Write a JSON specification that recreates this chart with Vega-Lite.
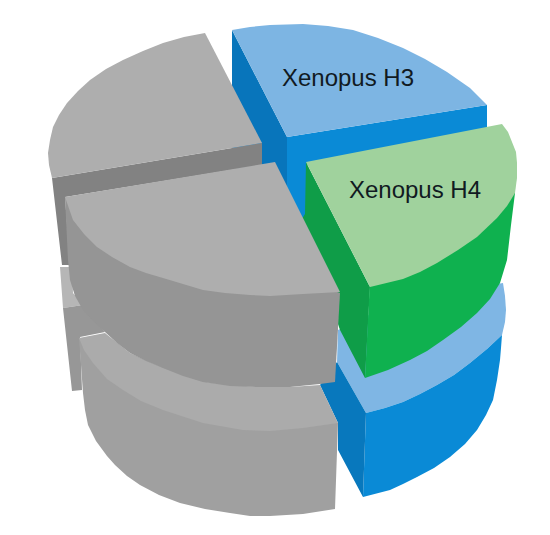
{
  "$schema": "https://vega.github.io/schema/vega-lite/v6.json",
  "width": 550,
  "height": 535,
  "padding": 0,
  "autosize": {"type": "fit", "contains": "padding"},
  "background": "white",
  "view": {"stroke": null},
  "layer": [
    {
      "data": {"values": [
        {"shape":"s01","i":1,"x":60,"y":267},{"shape":"s01","i":2,"x":72,"y":267},{"shape":"s01","i":3,"x":73,"y":293},{"shape":"s01","i":4,"x":83,"y":305},{"shape":"s01","i":5,"x":63,"y":308},
        {"shape":"s02","i":1,"x":63,"y":308},{"shape":"s02","i":2,"x":83,"y":305},{"shape":"s02","i":3,"x":105,"y":332},{"shape":"s02","i":4,"x":80,"y":337},{"shape":"s02","i":5,"x":82,"y":390},{"shape":"s02","i":6,"x":72,"y":391},
        {"shape":"s03","i":1,"x":338,"y":330},{"shape":"s03","i":2,"x":337,"y":362},{"shape":"s03","i":3,"x":366,"y":413},{"shape":"s03","i":4,"x":385,"y":408},{"shape":"s03","i":5,"x":403,"y":402},{"shape":"s03","i":6,"x":420,"y":394},{"shape":"s03","i":7,"x":437,"y":385},{"shape":"s03","i":8,"x":454,"y":375},{"shape":"s03","i":9,"x":470,"y":363},{"shape":"s03","i":10,"x":487,"y":349},{"shape":"s03","i":11,"x":502,"y":335},{"shape":"s03","i":12,"x":505,"y":322},{"shape":"s03","i":13,"x":506,"y":310},{"shape":"s03","i":14,"x":505,"y":296},{"shape":"s03","i":15,"x":503,"y":283},{"shape":"s03","i":16,"x":400,"y":300},
        {"shape":"s04","i":1,"x":366,"y":413},{"shape":"s04","i":2,"x":385,"y":408},{"shape":"s04","i":3,"x":403,"y":402},{"shape":"s04","i":4,"x":420,"y":394},{"shape":"s04","i":5,"x":437,"y":385},{"shape":"s04","i":6,"x":454,"y":375},{"shape":"s04","i":7,"x":470,"y":363},{"shape":"s04","i":8,"x":487,"y":349},{"shape":"s04","i":9,"x":502,"y":335},{"shape":"s04","i":10,"x":501,"y":348},{"shape":"s04","i":11,"x":500,"y":360},{"shape":"s04","i":12,"x":497,"y":380},{"shape":"s04","i":13,"x":493,"y":400},{"shape":"s04","i":14,"x":486,"y":415},{"shape":"s04","i":15,"x":477,"y":430},{"shape":"s04","i":16,"x":465,"y":444},{"shape":"s04","i":17,"x":450,"y":457},{"shape":"s04","i":18,"x":434,"y":468},{"shape":"s04","i":19,"x":417,"y":477},{"shape":"s04","i":20,"x":403,"y":484},{"shape":"s04","i":21,"x":390,"y":490},{"shape":"s04","i":22,"x":363,"y":497},
        {"shape":"s05","i":1,"x":337,"y":362},{"shape":"s05","i":2,"x":366,"y":413},{"shape":"s05","i":3,"x":363,"y":497},{"shape":"s05","i":4,"x":338,"y":450},{"shape":"s05","i":5,"x":338,"y":423},{"shape":"s05","i":6,"x":320,"y":385},
        {"shape":"s06","i":1,"x":79,"y":338},{"shape":"s06","i":2,"x":81,"y":365},{"shape":"s06","i":3,"x":83,"y":393},{"shape":"s06","i":4,"x":85,"y":410},{"shape":"s06","i":5,"x":88,"y":425},{"shape":"s06","i":6,"x":96,"y":441},{"shape":"s06","i":7,"x":107,"y":456},{"shape":"s06","i":8,"x":115,"y":465},{"shape":"s06","i":9,"x":127,"y":476},{"shape":"s06","i":10,"x":140,"y":485},{"shape":"s06","i":11,"x":159,"y":495},{"shape":"s06","i":12,"x":180,"y":503},{"shape":"s06","i":13,"x":205,"y":509},{"shape":"s06","i":14,"x":230,"y":513},{"shape":"s06","i":15,"x":250,"y":516},{"shape":"s06","i":16,"x":270,"y":516},{"shape":"s06","i":17,"x":303,"y":514},{"shape":"s06","i":18,"x":335,"y":509},{"shape":"s06","i":19,"x":338,"y":423},{"shape":"s06","i":20,"x":200,"y":380},
        {"shape":"s07","i":1,"x":79,"y":338},{"shape":"s07","i":2,"x":105,"y":333},{"shape":"s07","i":3,"x":130,"y":353},{"shape":"s07","i":4,"x":163,"y":368},{"shape":"s07","i":5,"x":203,"y":382},{"shape":"s07","i":6,"x":257,"y":387},{"shape":"s07","i":7,"x":290,"y":387},{"shape":"s07","i":8,"x":320,"y":385},{"shape":"s07","i":9,"x":338,"y":423},{"shape":"s07","i":10,"x":303,"y":428},{"shape":"s07","i":11,"x":270,"y":431},{"shape":"s07","i":12,"x":243,"y":430},{"shape":"s07","i":13,"x":203,"y":423},{"shape":"s07","i":14,"x":163,"y":410},{"shape":"s07","i":15,"x":141,"y":401},{"shape":"s07","i":16,"x":123,"y":390},{"shape":"s07","i":17,"x":107,"y":379},{"shape":"s07","i":18,"x":93,"y":363},{"shape":"s07","i":19,"x":84,"y":350},
        {"shape":"s08","i":1,"x":232,"y":30},{"shape":"s08","i":2,"x":287,"y":137},{"shape":"s08","i":3,"x":302,"y":230},{"shape":"s08","i":4,"x":232,"y":165},
        {"shape":"s09","i":1,"x":287,"y":137},{"shape":"s09","i":2,"x":487,"y":105},{"shape":"s09","i":3,"x":487,"y":128},{"shape":"s09","i":4,"x":306,"y":165},{"shape":"s09","i":5,"x":306,"y":225},{"shape":"s09","i":6,"x":287,"y":200},
        {"shape":"s10","i":1,"x":232,"y":30},{"shape":"s10","i":2,"x":250,"y":27},{"shape":"s10","i":3,"x":270,"y":25},{"shape":"s10","i":4,"x":303,"y":24},{"shape":"s10","i":5,"x":328,"y":26},{"shape":"s10","i":6,"x":353,"y":30},{"shape":"s10","i":7,"x":378,"y":38},{"shape":"s10","i":8,"x":403,"y":48},{"shape":"s10","i":9,"x":425,"y":59},{"shape":"s10","i":10,"x":447,"y":72},{"shape":"s10","i":11,"x":470,"y":88},{"shape":"s10","i":12,"x":487,"y":105},{"shape":"s10","i":13,"x":287,"y":137},
        {"shape":"s11","i":1,"x":52,"y":178},{"shape":"s11","i":2,"x":262,"y":143},{"shape":"s11","i":3,"x":262,"y":165},{"shape":"s11","i":4,"x":65,"y":197},{"shape":"s11","i":5,"x":70,"y":265},{"shape":"s11","i":6,"x":62,"y":265},
        {"shape":"s12","i":1,"x":205,"y":33},{"shape":"s12","i":2,"x":262,"y":143},{"shape":"s12","i":3,"x":52,"y":178},{"shape":"s12","i":4,"x":49,"y":165},{"shape":"s12","i":5,"x":48,"y":153},{"shape":"s12","i":6,"x":50,"y":140},{"shape":"s12","i":7,"x":53,"y":127},{"shape":"s12","i":8,"x":59,"y":115},{"shape":"s12","i":9,"x":67,"y":103},{"shape":"s12","i":10,"x":78,"y":91},{"shape":"s12","i":11,"x":90,"y":80},{"shape":"s12","i":12,"x":106,"y":69},{"shape":"s12","i":13,"x":123,"y":60},{"shape":"s12","i":14,"x":143,"y":51},{"shape":"s12","i":15,"x":163,"y":43},{"shape":"s12","i":16,"x":184,"y":37},
        {"shape":"s13","i":1,"x":306,"y":162},{"shape":"s13","i":2,"x":370,"y":287},{"shape":"s13","i":3,"x":365,"y":378},{"shape":"s13","i":4,"x":340,"y":330},{"shape":"s13","i":5,"x":330,"y":300},{"shape":"s13","i":6,"x":300,"y":222},{"shape":"s13","i":7,"x":305,"y":214},
        {"shape":"s14","i":1,"x":370,"y":280},{"shape":"s14","i":2,"x":403,"y":270},{"shape":"s14","i":3,"x":437,"y":255},{"shape":"s14","i":4,"x":458,"y":242},{"shape":"s14","i":5,"x":477,"y":227},{"shape":"s14","i":6,"x":497,"y":208},{"shape":"s14","i":7,"x":515,"y":185},{"shape":"s14","i":8,"x":515,"y":193},{"shape":"s14","i":9,"x":511,"y":225},{"shape":"s14","i":10,"x":507,"y":260},{"shape":"s14","i":11,"x":500,"y":283},{"shape":"s14","i":12,"x":490,"y":299},{"shape":"s14","i":13,"x":477,"y":313},{"shape":"s14","i":14,"x":461,"y":327},{"shape":"s14","i":15,"x":443,"y":340},{"shape":"s14","i":16,"x":427,"y":351},{"shape":"s14","i":17,"x":410,"y":360},{"shape":"s14","i":18,"x":388,"y":370},{"shape":"s14","i":19,"x":365,"y":378},
        {"shape":"s15","i":1,"x":306,"y":162},{"shape":"s15","i":2,"x":502,"y":124},{"shape":"s15","i":3,"x":508,"y":132},{"shape":"s15","i":4,"x":512,"y":142},{"shape":"s15","i":5,"x":516,"y":152},{"shape":"s15","i":6,"x":517,"y":163},{"shape":"s15","i":7,"x":517,"y":178},{"shape":"s15","i":8,"x":515,"y":193},{"shape":"s15","i":9,"x":507,"y":206},{"shape":"s15","i":10,"x":497,"y":218},{"shape":"s15","i":11,"x":477,"y":237},{"shape":"s15","i":12,"x":458,"y":250},{"shape":"s15","i":13,"x":437,"y":263},{"shape":"s15","i":14,"x":420,"y":272},{"shape":"s15","i":15,"x":403,"y":279},{"shape":"s15","i":16,"x":370,"y":287},
        {"shape":"s16","i":1,"x":65,"y":197},{"shape":"s16","i":2,"x":68,"y":260},{"shape":"s16","i":3,"x":70,"y":280},{"shape":"s16","i":4,"x":75,"y":296},{"shape":"s16","i":5,"x":83,"y":310},{"shape":"s16","i":6,"x":93,"y":321},{"shape":"s16","i":7,"x":105,"y":332},{"shape":"s16","i":8,"x":117,"y":343},{"shape":"s16","i":9,"x":130,"y":353},{"shape":"s16","i":10,"x":146,"y":361},{"shape":"s16","i":11,"x":163,"y":368},{"shape":"s16","i":12,"x":183,"y":376},{"shape":"s16","i":13,"x":203,"y":382},{"shape":"s16","i":14,"x":230,"y":386},{"shape":"s16","i":15,"x":257,"y":387},{"shape":"s16","i":16,"x":290,"y":387},{"shape":"s16","i":17,"x":320,"y":384},{"shape":"s16","i":18,"x":335,"y":382},{"shape":"s16","i":19,"x":340,"y":293},
        {"shape":"s17","i":1,"x":65,"y":197},{"shape":"s17","i":2,"x":275,"y":162},{"shape":"s17","i":3,"x":340,"y":292},{"shape":"s17","i":4,"x":303,"y":294},{"shape":"s17","i":5,"x":270,"y":296},{"shape":"s17","i":6,"x":250,"y":295},{"shape":"s17","i":7,"x":225,"y":293},{"shape":"s17","i":8,"x":203,"y":290},{"shape":"s17","i":9,"x":183,"y":284},{"shape":"s17","i":10,"x":163,"y":278},{"shape":"s17","i":11,"x":146,"y":273},{"shape":"s17","i":12,"x":130,"y":267},{"shape":"s17","i":13,"x":112,"y":257},{"shape":"s17","i":14,"x":97,"y":247},{"shape":"s17","i":15,"x":84,"y":234},{"shape":"s17","i":16,"x":73,"y":220}
      ]},
      "mark": {"type": "line", "filled": true, "interpolate": "linear-closed"},
      "encoding": {
        "x": {"field": "x", "type": "quantitative", "axis": null, "scale": {"domain": [0, 550]}},
        "y": {"field": "y", "type": "quantitative", "axis": null, "scale": {"domain": [535, 0]}},
        "order": {"field": "i", "type": "ordinal"},
        "color": {
          "field": "shape",
          "type": "nominal",
          "legend": null,
          "scale": {
            "domain": ["s01","s02","s03","s04","s05","s06","s07","s08","s09","s10","s11","s12","s13","s14","s15","s16","s17"],
            "range": ["#b6b6b6","#979797","#7fb6e4","#0a8ad6","#0878bd","#a0a0a0","#ababab","#0875bb","#0a8ad6","#7db5e3","#828282","#aeaeae","#0f9d48","#0fb14f","#a0d29d","#959595","#aeaeae"]
          }
        }
      }
    },
    {
      "data": {"values": [
        {"label": "Xenopus H3", "x": 348, "y": 79},
        {"label": "Xenopus H4", "x": 415, "y": 191}
      ]},
      "mark": {"type": "text", "font": "Liberation Sans", "fontSize": 24, "color": "#111a22"},
      "encoding": {
        "x": {"field": "x", "type": "quantitative", "axis": null, "scale": {"domain": [0, 550]}},
        "y": {"field": "y", "type": "quantitative", "axis": null, "scale": {"domain": [535, 0]}},
        "text": {"field": "label"}
      }
    }
  ]
}
